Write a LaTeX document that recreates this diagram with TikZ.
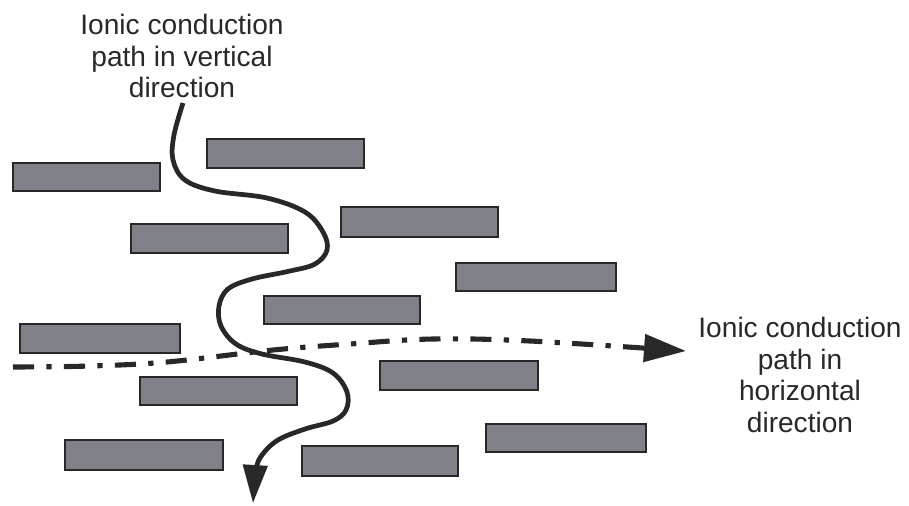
\documentclass[tikz,border=0pt]{standalone}
\usepackage{fontspec}
\setmainfont{Liberation Sans}
\usetikzlibrary{arrows.meta, positioning}
\definecolor{cPlate}{RGB}{128,128,136}
\definecolor{cInk}{RGB}{40,40,40}

\begin{document}
\begin{tikzpicture}[x=0.02cm, y=-0.02cm,
            plate/.style={draw=cInk, fill=cPlate, line width=0.9pt},
            lbl/.style={align=center, text=cInk, font=\fontsize{16}{18}\selectfont, inner sep=0pt},
            vpath/.style={draw=cInk, line width=2.7pt, -{Triangle[length=0.76cm, width=0.48cm]}},
            hpath/.style={draw=cInk, line width=2.9pt, dash pattern=on 12pt off 7pt on 3pt off 7pt,
                          -{Triangle[length=0.84cm, width=0.54cm]}}]
            \useasboundingbox (0,0) rectangle (909,505);
            \foreach \xa/\ya/\xb/\yb in {13/163/160/191, 207/139/364/168, 131/224/288/253,
                                         341/207/498/237, 456/263/616/291, 264/296/420/324,
                                         20/324/180/353, 380/361/538/390, 140/377/297/405,
                                         65/440/223/470, 302/446/458/476, 486/424/646/452}
                { \draw[plate] (\xa,\ya) rectangle (\xb,\yb); }
            \node[lbl] (vlabel) at (182,56) {Ionic conduction\\path in vertical\\direction};
            \node[lbl] (hlabel) at (800,375) {Ionic conduction\\path in\\horizontal\\direction};
            \coordinate (vstart) at (183,103);
            \coordinate (vend) at (253,503);
            \coordinate (hstart) at (13,367);
            \coordinate (hend) at (686,351);
            \draw[vpath] plot[smooth, tension=0.6] coordinates {(vstart) (174,135) (173,160) (185,180)
                (215,191) (267,198) (305,212) (323,232) (327,250) (315,264) (290,271) (252,279)
                (228,289) (219,306) (221,326) (236,344) (262,354) (305,362) (333,373) (347,392)
                (346,410) (333,421) (305,429) (278,440) (262,455) (256,470) (vend)};
            \draw[hpath] plot[smooth, tension=0.6] coordinates {(hstart) (90,366) (167,362) (273,350)
                (350,344) (433,339) (530,341) (hend)};
        \end{tikzpicture}
\end{document}
